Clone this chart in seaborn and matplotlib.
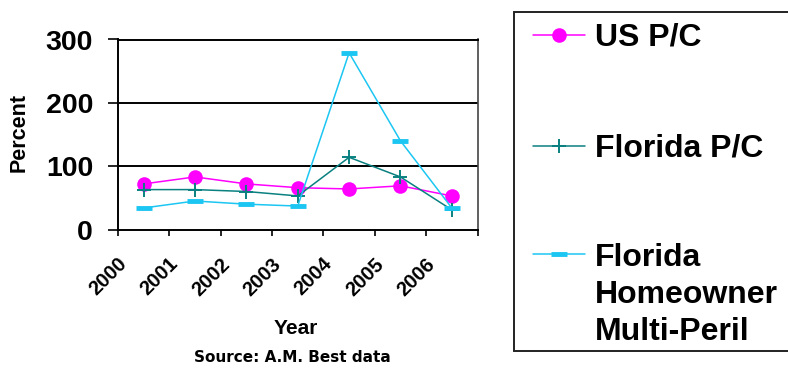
import matplotlib
matplotlib.use("Agg")
import matplotlib.pyplot as plt
import matplotlib.transforms as mtransforms
from matplotlib.lines import Line2D
from matplotlib.patches import Rectangle
import seaborn as sns
import pandas as pd
import numpy as np

years = ["2000", "2001", "2002", "2003", "2004", "2005", "2006"]
us_pc = [72, 83, 72, 66, 64, 69, 53]
fl_pc = [63, 63, 60, 53, 114, 83, 31]
fl_ho = [34, 45, 40, 37, 279, 140, 34]
series_names = ["US P/C", "Florida P/C", "Florida\nHomeowner\nMulti-Peril"]
y_ticks = [0, 100, 200, 300]

sns.set_theme(style="white")
plt.rcParams['font.family'] = ['Liberation Sans', 'DejaVu Sans']
plt.rcParams['font.weight'] = 'bold'
plt.rcParams['text.color'] = 'black'
plt.rcParams['xtick.color'] = 'black'
plt.rcParams['ytick.color'] = 'black'

W, H = 788, 368
fig = plt.figure(figsize=(W / 100, H / 100), dpi=100)
fig.patch.set_facecolor("white")

def fx(px):
    return px / W

def fy(py):
    return 1 - py / H

ax = fig.add_axes([fx(118), fy(229.5), fx(477.5) - fx(118), fy(39.5) - fy(229.5)])
ax.set_facecolor("white")

pos = np.arange(len(years))
styles = [
    dict(color="#FF00FF", marker="o", markersize=10.5, markeredgewidth=0, linewidth=1.1),
    dict(color="#0A8080", marker="+", markersize=10, markeredgewidth=1.4, linewidth=1.1),
    dict(color="#1CC6F2", marker="_", markersize=11, markeredgewidth=3.5, linewidth=1.1),
]
for vals, st in zip([us_pc, fl_pc, fl_ho], styles):
    df = pd.DataFrame({"pos": pos, "val": vals})
    sns.lineplot(data=df, x="pos", y="val", ax=ax, markeredgecolor=st["color"], **st)

ax.set_xlim(-0.5, len(years) - 0.5)
ax.set_ylim(0, 300)
ax.set_yticks(y_ticks)
ax.set_yticklabels([str(v) for v in y_ticks], fontsize=20.5, fontweight="bold")
for v in y_ticks[1:-1]:
    ax.axhline(v, color="black", linewidth=1.4, zorder=0.5)

ax.set_xticks(np.arange(-0.5, len(years), 1.0))
ax.set_xticklabels([])
ax.set_xticks(pos, minor=True)
ax.tick_params(axis="x", which="major", direction="out", length=4.5, width=1.2, color="black", bottom=True)
ax.tick_params(axis="x", which="minor", length=0, pad=2)
ax.tick_params(axis="y", direction="out", length=7.5, width=1.2, color="black", left=True, pad=10.5)
ax.set_xticklabels(years, minor=True, rotation=45, ha="right", fontsize=14.5, fontweight="bold")
offset = mtransforms.ScaledTranslation(-13 / 100, -22 / 100, fig.dpi_scale_trans)
for lbl in ax.get_xticklabels(minor=True):
    lbl.set_transform(lbl.get_transform() + offset)

ax.set_xlabel("")
ax.set_ylabel("")
for side in ["left", "bottom", "top"]:
    ax.spines[side].set_visible(True)
    ax.spines[side].set_color("black")
    ax.spines[side].set_linewidth(1.4)
ax.spines["right"].set_color("#444444")
ax.spines["right"].set_linewidth(1.2)

fig.text(fx(19), fy(132.5), "Percent", rotation=90, ha="center", va="center", fontsize=15.5, fontweight="bold")
fig.text(fx(296), fy(328), "Year", ha="center", va="center", fontsize=15, fontweight="bold")
fig.text(fx(292), fy(357), "Source: A.M. Best data", ha="center", va="center", fontsize=11,
         fontweight="bold", family=["DejaVu Sans"])

# legend box
fig.add_artist(Rectangle((fx(514), fy(351)), fx(800) - fx(514), fy(12) - fy(351),
                         transform=fig.transFigure, facecolor="white", edgecolor="#222222",
                         linewidth=1.4, zorder=1))
legend_y = [35, 146, 254]
legend_base = [46, 157, 340]  # baseline of the last text line
for name, st, ly, lb in zip(series_names, styles, legend_y, legend_base):
    fig.add_artist(Line2D([fx(533), fx(585)], [fy(ly), fy(ly)], transform=fig.transFigure,
                          color=st["color"], linewidth=st["linewidth"], zorder=2))
    fig.add_artist(Line2D([fx(559)], [fy(ly)], transform=fig.transFigure, color=st["color"],
                          marker=st["marker"], markersize=st["markersize"],
                          markeredgewidth=st["markeredgewidth"], markeredgecolor=st["color"],
                          linestyle="none", zorder=3))
    fig.text(fx(595), fy(lb), name, ha="left", va="baseline", fontsize=23, fontweight="bold",
             linespacing=1.31, zorder=4)

fig.savefig("out.png", dpi=100, facecolor="white")
